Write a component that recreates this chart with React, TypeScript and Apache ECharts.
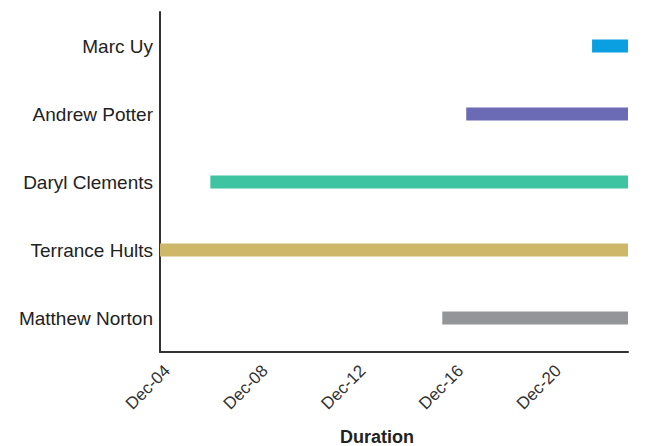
import React, { useEffect, useRef } from "react";
import * as echarts from "echarts";

const categories = ["Matthew Norton", "Terrance Hults", "Daryl Clements", "Andrew Potter", "Marc Uy"];
const startDays = [15.25, 3.5, 5.76, 16.23, 21.38];
const endDays = [22.85, 22.85, 22.85, 22.85, 22.85];
const barColors = ["#939598", "#CFB76A", "#3EC4A0", "#6B6BB5", "#0A9FE0"];
const tickDays = [4, 8, 12, 16, 20];
const axisMin = 3.7;
const axisMax = 22.85;

const pad = (n: number) => (n < 10 ? "0" + n : "" + n);

export default function App() {
  const ref = useRef<HTMLDivElement>(null);
  useEffect(() => {
    if (!ref.current) return;
    const chart = echarts.init(ref.current, undefined, { renderer: "svg" });
    const font = "'Liberation Sans', Arial, sans-serif";
    chart.setOption({
      animation: false,
      backgroundColor: "#ffffff",
      grid: { left: 160, right: 31, top: 12, bottom: 94, containLabel: false },
      xAxis: {
        type: "value",
        min: axisMin,
        max: axisMax,
        splitLine: { show: false },
        axisTick: { show: false },
        axisLine: { show: true, onZero: false, lineStyle: { color: "#333333", width: 2 } },
        axisLabel: {
          customValues: tickDays,
          rotate: 45,
          margin: 16,
          fontSize: 17,
          fontFamily: font,
          color: "#333333",
          formatter: (v: number) => "Dec-" + pad(Math.round(v)),
        },
      },
      yAxis: {
        type: "category",
        data: categories,
        axisTick: { show: false },
        axisLine: { show: true, lineStyle: { color: "#333333", width: 2 } },
        axisLabel: { fontSize: 19, fontFamily: font, color: "#222222", margin: 7 },
      },
      series: [
        {
          type: "bar",
          stack: "g",
          silent: true,
          barWidth: 13,
          itemStyle: { color: "transparent" },
          data: startDays,
        },
        {
          type: "bar",
          stack: "g",
          barWidth: 13,
          data: endDays.map((e, i) => ({
            value: e - startDays[i],
            itemStyle: { color: barColors[i] },
          })),
        },
      ],
      graphic: [
        {
          type: "text",
          left: 340,
          top: 428,
          style: {
            text: "Duration",
            font: "bold 18px 'Liberation Sans', Arial, sans-serif",
            fill: "#222222",
          },
        },
      ],
    });
    return () => chart.dispose();
  }, []);
  return (
    <div
      ref={ref}
      style={{ position: "fixed", left: 0, top: 0, width: 659, height: 446 }}
    />
  );
}
